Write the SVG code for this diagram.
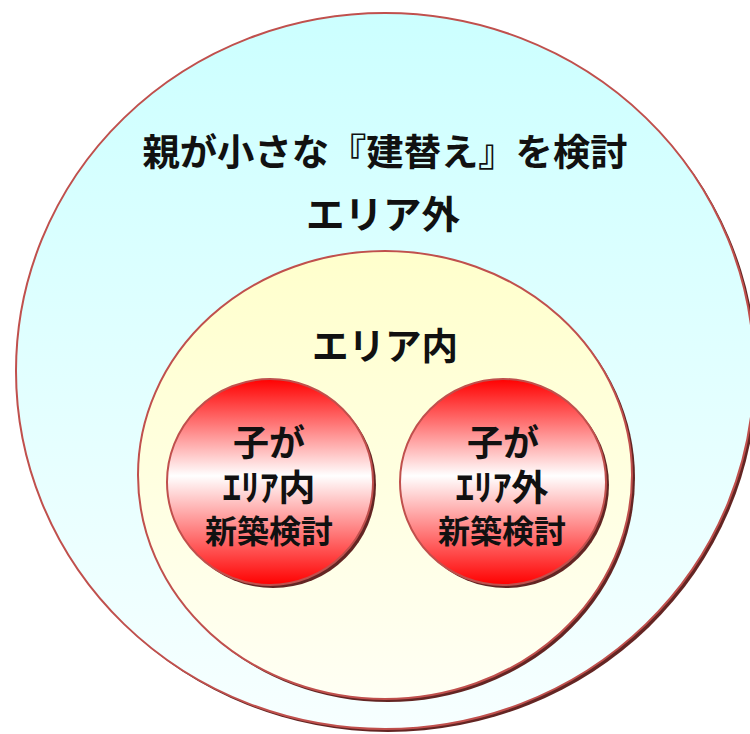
<svg xmlns="http://www.w3.org/2000/svg" width="750" height="734" viewBox="0 0 750 734">
<style>
.t{font-family:"Noto Sans CJK JP","Noto Sans CJK SC",sans-serif;font-weight:bold;fill:#111;text-anchor:middle}
.st{stroke:#c0504d;stroke-width:2}
.sh{fill:#632523}
</style>
<defs>
<linearGradient id="gOuter" x1="0" y1="0" x2="0" y2="1">
<stop offset="0" stop-color="#ccffff"/><stop offset="1" stop-color="#f7ffff"/>
</linearGradient>
<linearGradient id="gInner" x1="0" y1="0" x2="0" y2="1">
<stop offset="0" stop-color="#ffffcc"/><stop offset="1" stop-color="#fffff4"/>
</linearGradient>
<linearGradient id="gRed" x1="0" y1="0" x2="0" y2="1">
<stop offset="0" stop-color="#ff0000"/><stop offset="0.47" stop-color="#ffffff"/><stop offset="1" stop-color="#ff0000"/>
</linearGradient>
</defs>
<rect width="750" height="734" fill="#ffffff"/>
<g id="outer">
<ellipse class="sh" cx="388" cy="374" rx="369" ry="358"/>
<ellipse class="st" cx="385" cy="371" rx="369" ry="358" fill="url(#gOuter)"/>
<text class="t" x="385" y="166" font-size="37" textLength="485" lengthAdjust="spacingAndGlyphs">親が小さな『建替え』を検討</text>
<text class="t" x="383" y="228" font-size="38" textLength="154" lengthAdjust="spacingAndGlyphs">エリア外</text>
</g>
<g id="inner">
<ellipse class="sh" cx="388" cy="478" rx="247" ry="224"/>
<ellipse class="st" cx="385" cy="475" rx="247" ry="224" fill="url(#gInner)"/>
<text class="t" x="385" y="360" font-size="37" textLength="146" lengthAdjust="spacingAndGlyphs">エリア内</text>
</g>
<g id="child-in">
<circle class="sh" cx="273" cy="485" r="103"/>
<circle class="st" cx="270" cy="482" r="103" fill="url(#gRed)"/>
<text class="t" x="269" y="456" font-size="36">子が</text>
<text class="t" x="269" y="501" font-size="36" textLength="93" lengthAdjust="spacingAndGlyphs">ｴﾘｱ内</text>
<text class="t" x="269" y="543" font-size="32">新築検討</text>
</g>
<g id="child-out">
<circle class="sh" cx="506" cy="485" r="103"/>
<circle class="st" cx="503" cy="482" r="103" fill="url(#gRed)"/>
<text class="t" x="503" y="456" font-size="36">子が</text>
<text class="t" x="502" y="501" font-size="36" textLength="93" lengthAdjust="spacingAndGlyphs">ｴﾘｱ外</text>
<text class="t" x="502" y="543" font-size="32">新築検討</text>
</g>
<g id="connectors"/>
</svg>
